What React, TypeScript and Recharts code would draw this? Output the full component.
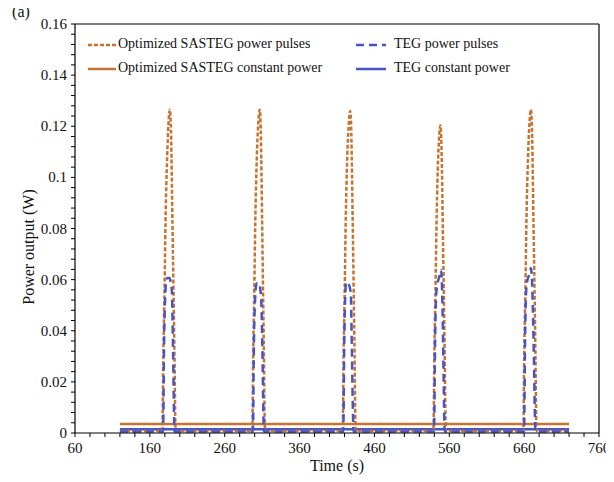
import React from 'react';
import { LineChart, Line, XAxis, YAxis, ReferenceLine } from 'recharts';

const ORANGE = '#C8722F';
const BLUE = '#4654C6';
const FONT = '"Liberation Serif", "Times New Roman", serif';

const xTicks = [60, 80, 100, 120, 140, 160, 180, 200, 220, 240, 260, 280, 300, 320, 340, 360, 380, 400, 420, 440, 460, 480, 500, 520, 540, 560, 580, 600, 620, 640, 660, 680, 700, 720, 740, 760];
const xMajorTicks = [60, 160, 260, 360, 460, 560, 660, 760];
const yTicks = [0, 0.004, 0.008, 0.012, 0.016, 0.02, 0.024, 0.028, 0.032, 0.036, 0.04, 0.044, 0.048, 0.052, 0.056, 0.06, 0.064, 0.068, 0.072, 0.076, 0.08, 0.084, 0.088, 0.092, 0.096, 0.1, 0.104, 0.108, 0.112, 0.116, 0.12, 0.124, 0.128, 0.132, 0.136, 0.14, 0.144, 0.148, 0.152, 0.156, 0.16];
const yMajorTicks = [0, 0.02, 0.04, 0.06, 0.08, 0.1, 0.12, 0.14, 0.16];

// Optimized SASTEG power pulses
const sastegPulseTime = [
  120, 176.5, 177, 178, 179.6, 180.9, 183.1, 184.9, 186.7, 188, 188.9, 190.2, 191.6, 192.9, 194, 194.6,
  296.6, 297.1, 298, 299.5, 300.8, 302.9, 304.8, 306.7, 308, 308.8, 310, 311.2, 312.4, 313.4, 314,
  417.4, 417.9, 418.8, 420.3, 421.6, 423.7, 425.6, 427.6, 428.9, 429.7, 431, 432.3, 433.5, 434.5, 435.1,
  538.6, 539.1, 540, 541.5, 542.8, 544.6, 546.3, 548, 549.3, 550.2, 551.4, 552.7, 553.9, 555, 555.6,
  658.7, 659.2, 660.1, 661.7, 663, 665.2, 667.1, 669, 670.3, 671.2, 672.5, 673.9, 675.1, 676.2, 676.8,
  720,
];
const sastegPulseValue = [
  0.0008, 0.0008, 0.005, 0.03, 0.056, 0.082, 0.108, 0.121, 0.1265, 0.121, 0.108, 0.082, 0.056, 0.03, 0.005, 0.0008,
  0.0008, 0.005, 0.03, 0.056, 0.082, 0.108, 0.121, 0.1265, 0.121, 0.108, 0.082, 0.056, 0.03, 0.005, 0.0008,
  0.0008, 0.005, 0.03, 0.056, 0.082, 0.108, 0.12, 0.126, 0.12, 0.108, 0.082, 0.056, 0.03, 0.005, 0.0008,
  0.0008, 0.005, 0.03, 0.055, 0.079, 0.103, 0.115, 0.1203, 0.115, 0.103, 0.079, 0.055, 0.03, 0.005, 0.0008,
  0.0008, 0.005, 0.03, 0.056, 0.082, 0.108, 0.121, 0.1265, 0.121, 0.108, 0.082, 0.056, 0.03, 0.005, 0.0008,
  0.0008,
];

// TEG power pulses
const tegPulseTime = [
  120, 177.5, 178, 178.8, 180.9, 182, 183.4, 186.5, 187.8, 189.3, 191.1, 192.4, 193,
  297.5, 298, 298.8, 300.7, 302, 303.6, 306.4, 307.6, 308.8, 310.5, 311.8, 312.4,
  418.2, 418.7, 419.5, 421.2, 422.3, 424, 427, 428.5, 430, 431.5, 432.1,
  539.5, 540, 540.8, 542.5, 544, 546.5, 548.9, 550, 551.2, 552.5, 553.3, 553.9,
  659.7, 660.2, 661, 662.8, 664.5, 667, 669, 670.3, 671.5, 673, 674.5, 675.1,
  720,
];
const tegPulseValue = [
  0.0006, 0.0006, 0.005, 0.03, 0.056, 0.0598, 0.0606, 0.0606, 0.059, 0.056, 0.03, 0.005, 0.0006,
  0.0006, 0.005, 0.03, 0.053, 0.0578, 0.0587, 0.0585, 0.056, 0.052, 0.03, 0.005, 0.0006,
  0.0006, 0.005, 0.03, 0.055, 0.059, 0.0588, 0.057, 0.054, 0.03, 0.005, 0.0006,
  0.0006, 0.005, 0.03, 0.054, 0.058, 0.061, 0.0638, 0.06, 0.045, 0.02, 0.005, 0.0006,
  0.0006, 0.005, 0.03, 0.056, 0.06, 0.062, 0.0645, 0.061, 0.05, 0.03, 0.005, 0.0006,
  0.0006,
];

// Constant power lines
const constantTime = [120, 720];
const sastegConstantValue = [0.0035, 0.0035];
const tegConstantValue = [0.0015, 0.0015];

const legendLabels = [
  'Optimized SASTEG power pulses',
  'TEG power pulses',
  'Optimized SASTEG constant power',
  'TEG constant power',
];

const toPoints = (ts: number[], vs: number[]) => ts.map((t, i) => ({ t, v: vs[i] }));
const sastegPulses = toPoints(sastegPulseTime, sastegPulseValue);
const tegPulses = toPoints(tegPulseTime, tegPulseValue);
const sastegConstant = toPoints(constantTime, sastegConstantValue);
const tegConstant = toPoints(constantTime, tegConstantValue);

const XTick = (props: any) => {
  const { x, y, payload } = props;
  const major = xMajorTicks.includes(payload.value);
  return (
    <g>
      <line x1={x} y1={y} x2={x} y2={y + 4} stroke="#000" strokeWidth={1} />
      {major && (
        <text x={x} y={y + 20} textAnchor="middle" fontFamily={FONT} fontSize={15} fill="#111">
          {payload.value}
        </text>
      )}
    </g>
  );
};

const YTick = (props: any) => {
  const { x, y, payload } = props;
  const major = yMajorTicks.some((m) => Math.abs(m - payload.value) < 1e-9);
  return (
    <g>
      <line x1={x - 4} y1={y} x2={x} y2={y} stroke="#000" strokeWidth={1} />
      {major && (
        <text x={x - 8} y={y + 5} textAnchor="end" fontFamily={FONT} fontSize={15} fill="#111">
          {String(payload.value)}
        </text>
      )}
    </g>
  );
};

export default function App() {
  return (
    <div style={{ position: 'relative', width: 614, height: 470 }}>
      <LineChart width={614} height={470} margin={{ top: 16, right: 23, bottom: 15, left: 7 }}>
        <XAxis
          type="number"
          dataKey="t"
          domain={[60, 760]}
          ticks={xTicks}
          interval={0}
          tickSize={0}
          tickMargin={0}
          tickLine={false}
          tick={XTick}
          height={30}
          axisLine={{ stroke: '#000', strokeWidth: 1.2 }}
          allowDataOverflow
        />
        <YAxis
          type="number"
          domain={[0, 0.16]}
          ticks={yTicks}
          interval={0}
          tickSize={0}
          tickMargin={0}
          tickLine={false}
          tick={YTick}
          width={60}
          axisLine={{ stroke: '#000', strokeWidth: 1.2 }}
          allowDataOverflow
        />
        <ReferenceLine y={0.16} stroke="#000" strokeWidth={1.2} />
        <ReferenceLine x={760} stroke="#000" strokeWidth={1.2} />
        <Line data={sastegConstant} dataKey="v" type="linear" stroke={ORANGE} strokeWidth={2.5} dot={false} isAnimationActive={false} />
        <Line data={tegConstant} dataKey="v" type="linear" stroke={BLUE} strokeWidth={2.5} dot={false} isAnimationActive={false} />
        <Line data={sastegPulses} dataKey="v" type="monotone" stroke={ORANGE} strokeWidth={2.5} strokeDasharray="4 2" dot={false} isAnimationActive={false} />
        <Line data={tegPulses} dataKey="v" type="monotone" stroke={BLUE} strokeWidth={2.5} strokeDasharray="8 5" dot={false} isAnimationActive={false} />
      </LineChart>
      <svg
        width={614}
        height={482}
        style={{ position: 'absolute', left: -8, top: -8, pointerEvents: 'none', overflow: 'visible' }}
      >
        <text x={21} y={13} textAnchor="middle" dominantBaseline="middle" fontFamily={FONT} fontSize={16} fill="#111">(a)</text>
        <text x={337} y={467} textAnchor="middle" dominantBaseline="middle" fontFamily={FONT} fontSize={16} fill="#111">Time (s)</text>
        <text
          x={30}
          y={247}
          textAnchor="middle"
          dominantBaseline="middle"
          fontFamily={FONT}
          fontSize={16}
          fill="#111"
          transform="rotate(-90 30 247)"
        >
          Power output (W)
        </text>
        <g fontFamily={FONT} fontSize={14} fill="#111">
          <line x1={88} y1={45} x2={116} y2={45} stroke={ORANGE} strokeWidth={2.5} strokeDasharray="4 2" />
          <text x={118} y={45} dominantBaseline="middle">{legendLabels[0]}</text>
          <line x1={356} y1={45} x2={386} y2={45} stroke={BLUE} strokeWidth={2.5} strokeDasharray="8 5" />
          <text x={394} y={45} dominantBaseline="middle">{legendLabels[1]}</text>
          <line x1={88} y1={69} x2={116} y2={69} stroke={ORANGE} strokeWidth={2.5} />
          <text x={118} y={69} dominantBaseline="middle">{legendLabels[2]}</text>
          <line x1={356} y1={69} x2={386} y2={69} stroke={BLUE} strokeWidth={2.5} />
          <text x={394} y={69} dominantBaseline="middle">{legendLabels[3]}</text>
        </g>
      </svg>
    </div>
  );
}
